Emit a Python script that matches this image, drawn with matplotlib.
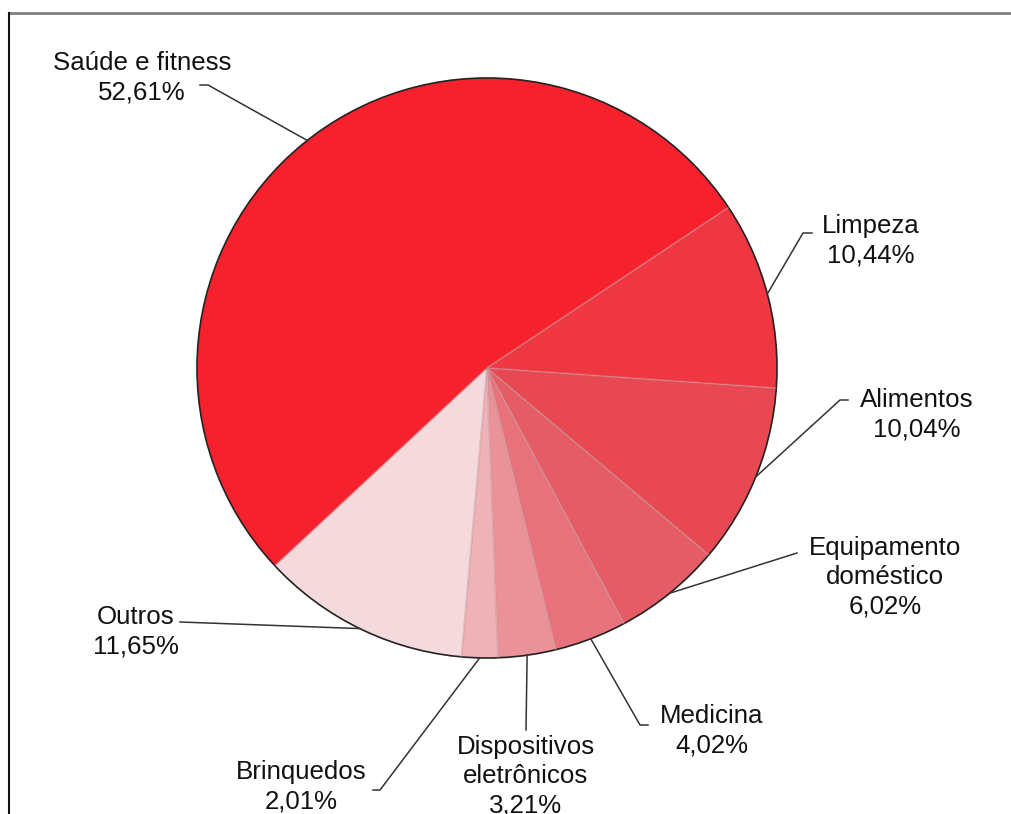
import matplotlib.pyplot as plt
import numpy as np

plt.rcParams['font.family'] = ['Liberation Sans', 'DejaVu Sans']

categorias = ["Saúde e fitness", "Limpeza", "Alimentos", "Equipamento\ndoméstico",
              "Medicina", "Dispositivos\neletrônicos", "Brinquedos", "Outros"]
percentuais = [52.61, 10.44, 10.04, 6.02, 4.02, 3.21, 2.01, 11.65]
cores = ["#F7212D", "#EE3741", "#E84852", "#E65C66", "#E8727B",
         "#EB9299", "#EEB2B7", "#F5DADD"]

# posicao dos rotulos (centro do bloco de texto) e cotovelo da linha guia, em pixels
pos_rotulo = [(142, 78), (871, 241), (917, 415), (885, 577),
              (712, 731), (526, 776), (301, 787), (136, 632)]
cotovelo = [[(200, 85), (208, 85)], [(812, 233), (803, 233)], [(848, 400), (840, 400)],
            [(797, 553)], [(648, 725), (640, 725)], [(526, 730)],
            [(373, 790), (380, 790)], [(180, 622)]]

centro = (487, 368)
raio = 290

fig = plt.figure(figsize=(10.11, 8.14), dpi=100)
ax = fig.add_axes([0, 0, 1, 1])

wedges, _ = ax.pie(percentuais, colors=cores, startangle=137, counterclock=True,
                   center=centro, radius=raio,
                   wedgeprops=dict(edgecolor="none", linewidth=0))

# leve relevo nas divisas entre as fatias
for w, c in zip(wedges, cores):
    for ang, cor_linha in ((w.theta1, "white"), (w.theta2, "#7a1018")):
        t = np.deg2rad(ang)
        ax.plot([centro[0], centro[0] + raio * np.cos(t)],
                [centro[1], centro[1] + raio * np.sin(t)],
                color=cor_linha, lw=1.4, alpha=0.25, solid_capstyle="butt")

ax.add_patch(plt.Circle(centro, raio, fill=False, edgecolor="#222222", lw=1.2))

# rotulos com linha guia a partir do meio de cada fatia
for w, nome, pct, xy, pts in zip(wedges, categorias, percentuais, pos_rotulo, cotovelo):
    meio = np.deg2rad((w.theta1 + w.theta2) / 2)
    borda = (centro[0] + raio * np.cos(meio), centro[1] + raio * np.sin(meio))
    xs = [p[0] for p in pts] + [borda[0]]
    ys = [p[1] for p in pts] + [borda[1]]
    ax.plot(xs, ys, color="#333333", lw=1.1)
    texto = f"{nome}\n{pct:.2f}%".replace(".", ",")
    ax.text(xy[0], xy[1], texto, ha="center", va="center", multialignment="center",
            fontsize=18.6, color="#111111", linespacing=1.27)

# moldura superior e esquerda
ax.plot([9, 1011], [13, 13], color="#7f7f7f", lw=2)
ax.plot([9, 9], [13, 814], color="#111111", lw=1.5)

ax.set_xlim(0, 1011)
ax.set_ylim(814, 0)
ax.axis("off")

fig.savefig("out.png", dpi=100)
